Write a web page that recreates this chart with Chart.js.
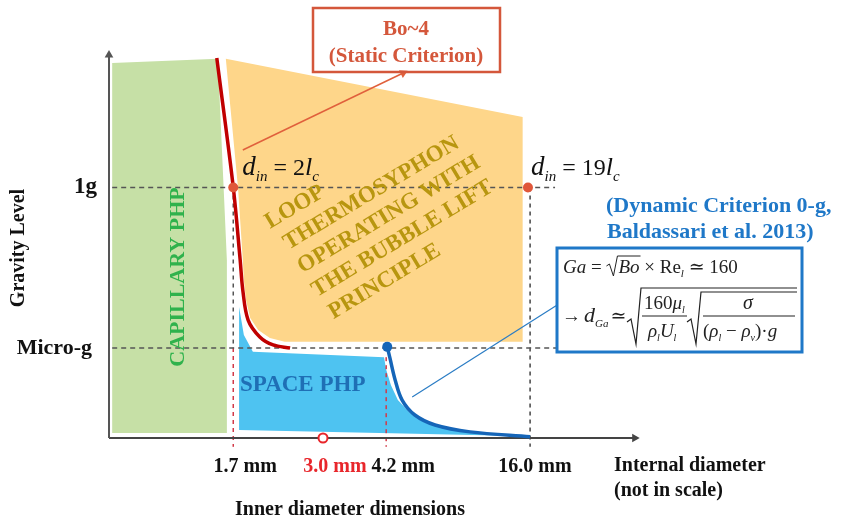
<!DOCTYPE html>
<html>
<head>
<meta charset="utf-8">
<script src="https://cdn.jsdelivr.net/npm/chart.js@4.4.1/dist/chart.umd.min.js"></script>
<style>
html, body { margin: 0; padding: 0; background: #fff; }
#wrap { width: 844px; height: 521px; position: relative; }
</style>
</head>
<body>
<div id="wrap"><canvas id="chart"></canvas></div>
<script>
// schematic units (diagram is not in scale): x 0..100 internal diameter, y 0..100 gravity level
const xTickLabels = ['1.7 mm', '3.0 mm', '4.2 mm', '16.0 mm'];
const xTickValues = [23.4, 40.3, 52.2, 78.9];
const yTickLabels = ['1g', 'Micro-g'];
const yTickValues = [65.4, 23.5];

// regions
const capillaryRegion = [[0.6, 97.9], [20.5, 99.0], [22.2, 46.5], [22.2, 1.3], [0.6, 1.3]];
const thermosyphonRegion = [[22.0, 99.0], [77.9, 83.8], [77.9, 25.1], [33.1, 25.1], [30.3, 26.1], [28.1, 28.2],
	[26.6, 31.3], [25.8, 36.0], [25.4, 41.2], [25.2, 46.5], [24.3, 65.3]];
const spaceRegion = [[24.5, 34.2], [25.4, 26.9], [27.1, 22.5], [51.8, 21.1], [52.2, 17.8], [53.1, 13.8],
	[54.4, 9.9], [56.7, 6.5], [60.5, 3.7], [67.0, 1.8], [77.4, 0.5], [24.5, 2.1]];

// criteria curves
const staticCurve = [[20.3, 99.2], [23.4, 65.5], [24.7, 46.5], [25.2, 38.6], [26.2, 30.8], [28.4, 26.4], [30.9, 24.3], [34.1, 23.5]];
const dynamicCurve = [[52.4, 23.8], [52.9, 20.9], [53.9, 15.1], [55.2, 9.9], [57.6, 6.0], [61.4, 3.4], [68.0, 1.6], [79.3, 0.3]];

// markers
const criterionPoints = [[23.4, 65.4], [78.9, 65.4]];
const dynamicStart = [[52.4, 23.8]];
const redCircle = [[40.3, 0]];

// arrows / leader lines
const staticArrow = [[25.2, 75.2], [55.4, 95.3]];
const dynamicLeader = [[57.1, 10.7], [85.3, 35.5]];

const SERIF = "'Liberation Serif', 'Times New Roman', 'DejaVu Serif', serif";
const pts = arr => arr.map(([x, y]) => ({x, y}));

function region(data, color) {
	return {
		data: pts(data), backgroundColor: color, borderColor: 'rgba(0,0,0,0)', borderWidth: 0,
		pointRadius: 0, fill: 'shape', tension: 0, order: 20
	};
}
function line(data, color, width, dash, order) {
	return {
		data: pts(data), borderColor: color, borderWidth: width, borderDash: dash || [],
		pointRadius: 0, fill: false, tension: 0, clip: false, order: order || 10
	};
}
function arrow(data, color, width, size, rot) {
	return {
		data: pts(data), borderColor: color, borderWidth: width, fill: false, tension: 0, clip: false,
		pointStyle: 'triangle', pointRadius: [0, size], pointRotation: [0, rot],
		pointBackgroundColor: color, pointBorderColor: color, pointBorderWidth: 0, order: 8
	};
}
function dots(data, fillColor, edge, r, bw) {
	return {
		data: pts(data), showLine: false, pointRadius: r, pointHoverRadius: r,
		pointBackgroundColor: fillColor, pointBorderColor: edge, pointBorderWidth: bw || 0,
		clip: false, order: 1
	};
}

const datasets = [
	region(capillaryRegion, '#c6e0a6'),
	region(thermosyphonRegion, '#fed68a'),
	region(spaceRegion, '#4ec3f1'),
	// reference dashed lines
	line([[0.6, yTickValues[0]], [84.0, yTickValues[0]]], '#555', 1.5, [5, 4], 12),
	line([[0.6, yTickValues[1]], [84.4, yTickValues[1]]], '#555', 1.5, [5, 4], 12),
	line([[xTickValues[0], yTickValues[0]], [xTickValues[0], yTickValues[1]]], '#555', 1.5, [4, 4], 12),
	line([[xTickValues[0], yTickValues[1]], [xTickValues[0], -2.3]], '#d23a48', 1.5, [4, 4], 12),
	line([[xTickValues[2], 21.1], [xTickValues[2], -2.3]], '#d23a48', 1.5, [4, 4], 12),
	line([[79.3, yTickValues[0]], [79.3, -2.3]], '#444', 1.5, [4, 4], 12),
	// axes
	arrow([[0, 0], [0, 100]], '#555', 2, 5, 0),
	arrow([[0, 0], [99, 0]], '#444', 2, 5, 90),
	// curves
	Object.assign(line(staticCurve, '#c00000', 3.5, null, 5), {tension: 0.35}),
	Object.assign(line(dynamicCurve, '#1565b8', 3.5, null, 5), {tension: 0.35}),
	arrow(staticArrow, '#e0603c', 1.5, 5, 64),
	line(dynamicLeader, '#2a7cc4', 1.2, null, 6),
	dots(criterionPoints, '#e0573a', '#e0573a', 5),
	dots(dynamicStart, '#1565b8', '#1565b8', 5),
	dots(redCircle, '#ffffff', '#e8262b', 4.5, 2)
];

const annotations = {
	id: 'annotations',
	afterDatasetsDraw(chart) {
		const {ctx, scales: {x, y}} = chart;
		const bold = s => `bold ${s}px ${SERIF}`;
		const it = s => `italic ${s}px ${SERIF}`;
		const rg = s => `${s}px ${SERIF}`;
		const put = (t, px, py, font, color) => {
			ctx.font = font;
			if (color) ctx.fillStyle = color;
			ctx.fillText(t, px, py);
			return px + ctx.measureText(t).width;
		};
		ctx.save();
		ctx.textBaseline = 'middle';

		// y tick labels
		ctx.fillStyle = '#111';
		ctx.textAlign = 'right';
		ctx.font = bold(23);
		ctx.fillText(yTickLabels[0], 97, y.getPixelForValue(yTickValues[0]));
		ctx.font = bold(22);
		ctx.fillText(yTickLabels[1], 92, y.getPixelForValue(yTickValues[1]));

		// y title
		ctx.save();
		ctx.translate(19, 248);
		ctx.rotate(-Math.PI / 2);
		ctx.textAlign = 'center';
		ctx.font = bold(20);
		ctx.fillText('Gravity Level', 0, 0);
		ctx.restore();

		// x tick labels
		ctx.textAlign = 'center';
		ctx.font = bold(20);
		const labelShift = [12, 12, 17, 7];
		xTickLabels.forEach((lab, i) => {
			ctx.fillStyle = i === 1 ? '#e8262b' : '#111';
			ctx.fillText(lab, x.getPixelForValue(xTickValues[i]) + labelShift[i], 467);
		});
		ctx.fillStyle = '#111';
		ctx.textAlign = 'left';
		ctx.fillText('Internal diameter', 614, 466);
		ctx.fillText('(not in scale)', 614, 491);
		ctx.textAlign = 'center';
		ctx.fillText('Inner diameter dimensions', 350, 510);

		// region labels
		ctx.save();
		ctx.translate(178, 277);
		ctx.rotate(-Math.PI / 2);
		ctx.font = bold(22);
		ctx.fillStyle = '#2fb24c';
		ctx.fillText('CAPILLARY PHP', 0, 0);
		ctx.restore();

		ctx.textAlign = 'left';
		ctx.font = bold(23);
		ctx.fillStyle = '#1f6fb5';
		ctx.fillText('SPACE PHP', 240, 385);

		ctx.save();
		ctx.translate(270, 229);
		ctx.rotate(-31 * Math.PI / 180);
		ctx.textBaseline = 'alphabetic';
		ctx.font = bold(23);
		ctx.fillStyle = '#b8960f';
		const loop = ['LOOP', 'THERMOSYPHON', 'OPERATING WITH', 'THE BUBBLE LIFT', 'PRINCIPLE'];
		const shift = [0, 5, 5, 5, 8];
		loop.forEach((t, i) => ctx.fillText(t, shift[i], i * 27.5));
		ctx.restore();

		// d_in labels
		ctx.textBaseline = 'alphabetic';
		ctx.fillStyle = '#111';
		const dLabel = (px, py, num) => {
			let cx = put('d', px, py, it(27));
			cx = put('in', cx, py + 6, it(15));
			cx = put(' = ', cx, py, rg(24));
			cx = put(num, cx, py, rg(24));
			cx = put('l', cx, py, it(26));
			put('c', cx, py + 6, it(15));
		};
		dLabel(x.getPixelForValue(xTickValues[0]) + 9, 175, '2');
		dLabel(x.getPixelForValue(xTickValues[3]) + 3, 175, '19');

		// static criterion box
		ctx.strokeStyle = '#d4573b';
		ctx.lineWidth = 2.5;
		ctx.strokeRect(313, 8, 187, 64);
		ctx.fillStyle = '#d4573b';
		ctx.textAlign = 'center';
		ctx.font = bold(21);
		ctx.fillText('Bo~4', 406, 35);
		ctx.fillText('(Static Criterion)', 406, 62);

		// dynamic criterion caption
		ctx.textAlign = 'left';
		ctx.fillStyle = '#1f78c8';
		ctx.font = bold(22);
		ctx.fillText('(Dynamic Criterion 0-g,', 606, 212);
		ctx.fillText('Baldassari et al. 2013)', 607, 238);

		// formula box
		ctx.fillStyle = '#fff';
		ctx.fillRect(557, 248, 245, 104);
		ctx.strokeStyle = '#1f78c8';
		ctx.lineWidth = 3;
		ctx.strokeRect(557, 248, 245, 104);

		ctx.fillStyle = '#222';
		ctx.strokeStyle = '#222';
		ctx.lineWidth = 1;
		let cx = put('Ga', 563, 273, it(19));
		cx = put(' = ', cx, 273, rg(19));
		ctx.beginPath();
		ctx.moveTo(cx, 266); ctx.lineTo(cx + 3, 264); ctx.lineTo(cx + 7, 276); ctx.lineTo(cx + 11, 256);
		const boW = (ctx.font = it(19), ctx.measureText('Bo').width);
		ctx.lineTo(cx + 13 + boW, 256);
		ctx.stroke();
		cx = put('Bo', cx + 12, 273, it(19));
		cx = put(' \u00d7 Re', cx, 273, rg(19));
		cx = put('l', cx, 277, it(11));
		put(' \u2243 160', cx, 273, rg(19));

		cx = put('\u2192', 562, 322, rg(19));
		cx = put('d', cx + 3, 322, it(22));
		cx = put('Ga', cx, 327, it(11));
		put('\u2243', cx + 2, 322, rg(19));
		// outer radical
		ctx.lineWidth = 1.2;
		ctx.beginPath();
		ctx.moveTo(627, 322); ctx.lineTo(631, 319); ctx.lineTo(636, 344); ctx.lineTo(641, 288); ctx.lineTo(797, 288);
		ctx.stroke();
		// first fraction
		let fx = put('160', 644, 309, rg(19));
		fx = put('\u03bc', fx, 309, it(19));
		put('l', fx, 313, it(10));
		ctx.beginPath(); ctx.moveTo(642, 316); ctx.lineTo(687, 316); ctx.stroke();
		fx = put('\u03c1', 648, 337, it(19));
		fx = put('l', fx, 341, it(10));
		fx = put('U', fx, 337, it(19));
		put('l', fx, 341, it(10));
		// inner radical
		ctx.beginPath();
		ctx.moveTo(687, 322); ctx.lineTo(691, 319); ctx.lineTo(696, 344); ctx.lineTo(701, 292); ctx.lineTo(797, 292);
		ctx.stroke();
		put('\u03c3', 743, 309, it(20));
		ctx.beginPath(); ctx.moveTo(703, 316); ctx.lineTo(795, 316); ctx.stroke();
		fx = put('(', 703, 337, rg(19));
		fx = put('\u03c1', fx, 337, it(19));
		fx = put('l', fx, 341, it(10));
		fx = put(' \u2212 ', fx, 337, rg(19));
		fx = put('\u03c1', fx, 337, it(19));
		fx = put('v', fx, 341, it(10));
		fx = put(')\u00b7', fx, 337, rg(19));
		put('g', fx, 337, it(19));

		ctx.restore();
	}
};

new Chart(document.getElementById('chart').getContext('2d'), {
	type: 'line',
	data: {datasets},
	options: {
		responsive: true,
		maintainAspectRatio: false,
		animation: false,
		layout: {padding: {left: 109, right: 204, top: 55, bottom: 83}},
		scales: {
			x: {type: 'linear', min: 0, max: 100, display: false},
			y: {type: 'linear', min: 0, max: 100, display: false}
		},
		plugins: {
			legend: {display: false},
			tooltip: {enabled: false}
		}
	},
	plugins: [annotations]
});
</script>
</body>
</html>
